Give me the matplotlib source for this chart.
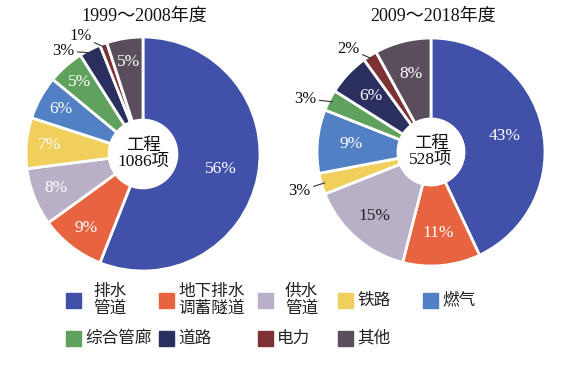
import numpy as np
import matplotlib
matplotlib.use('Agg')
import matplotlib.pyplot as plt
from matplotlib.patches import Rectangle

plt.rcParams['font.family'] = ['Liberation Serif', 'Noto Sans CJK SC']

# 数据
categories = ['排水\n管道', '地下排水\n调蓄隧道', '供水\n管道', '铁路', '燃气',
              '综合管廊', '道路', '电力', '其他']
colors = ['#4150a8', '#e8633f', '#b9afc7', '#f1cf5c', '#5180c4',
          '#5fa15d', '#2b2f5f', '#7d3134', '#5a4e5d']
vals_1 = [56, 9, 8, 7, 6, 5, 3, 1, 5]
vals_2 = [43, 11, 15, 3, 9, 3, 6, 2, 8]
titles = ['1999～2008年度', '2009～2018年度']
centers = ['工程\n1086项', '工程\n528项']

W, H = 567, 368
fig = plt.figure(figsize=(W / 100, H / 100), dpi=100)


def pie_axes(cx, cy, r):
    return fig.add_axes([(cx - r) / W, 1 - (cy + r) / H, 2 * r / W, 2 * r / H])


# 每个饼图的位置（像素）和标签设置
layouts = [
    dict(cx=143, cy=154, r=117, lab_r=[0.68, 0.8, 0.8, 0.8, 0.8, 0.82, 0, 0, 0.8],
         lab_c=['w', 'w', 'w', 'w', 'w', 'w', 'k', 'k', 'w'],
         outside={6: (-17, 2), 7: (-13, 11)}),
    dict(cx=431, cy=152, r=114, lab_r=[0.66, 0.71, 0.75, 0, 0.7, 0, 0.72, 0, 0.71],
         lab_c=['w', 'w', '#222222', 'k', 'w', 'k', 'w', 'k', 'w'],
         outside={3: (-14, -8), 5: (-16, 3), 7: (-12, 10)}),
]

for vals, title, ctext, lay in zip([vals_1, vals_2], titles, centers, layouts):
    ax = pie_axes(lay['cx'], lay['cy'], lay['r'])
    wedges, _ = ax.pie(vals, colors=colors, startangle=90, counterclock=False,
                       radius=1, wedgeprops=dict(width=0.71, edgecolor='white', linewidth=2))
    ax.set_xlim(-1, 1)
    ax.set_ylim(-1, 1)
    ax.set_aspect('equal')
    for i, (w, v) in enumerate(zip(wedges, vals)):
        ang = np.deg2rad((w.theta1 + w.theta2) / 2)
        if i in lay['outside']:
            ox, oy = lay['outside'][i]
            ax.annotate(f'{v}%', xy=(0.97 * np.cos(ang), 0.97 * np.sin(ang)),
                        xytext=(ox, oy), textcoords='offset pixels',
                        ha='right', va='center', fontsize=12, color='#111111',
                        arrowprops=dict(arrowstyle='-', color='#333333', lw=0.8,
                                        shrinkA=0, shrinkB=0))
        else:
            rr = lay['lab_r'][i]
            ax.text(rr * np.cos(ang), rr * np.sin(ang), f'{v}%', ha='center', va='center',
                    fontsize=12.5, color=lay['lab_c'][i])
    ax.text(0, 0, ctext, ha='center', va='center', fontsize=12.5, linespacing=1.0,
            color='#111111')
    fig.text(lay['cx'] / W + 0.003, 1 - 16 / H, title, ha='center', va='center',
             fontsize=13, color='#111111')

# 图例（手动排列）
leg_pos = [(66, 300), (159, 300), (258, 300), (338, 300), (423, 300),
           (66, 338), (159, 338), (258, 338), (338, 338)]
sq = 15
for (x, y), lab, c in zip(leg_pos, categories, colors):
    fig.patches.append(Rectangle((x / W, 1 - (y + sq / 2) / H), sq / W, sq / H,
                                 transform=fig.transFigure, color=c))
    multi = '\n' in lab
    tx = x + sq + 4 + (8 if multi and len(lab) < 6 else 0)
    fig.text(tx / W, 1 - y / H, lab, ha='left', va='center', fontsize=12,
             family='Noto Sans CJK SC', linespacing=0.95, multialignment='center',
             color='#222222')

fig.savefig('out.png', dpi=100)
